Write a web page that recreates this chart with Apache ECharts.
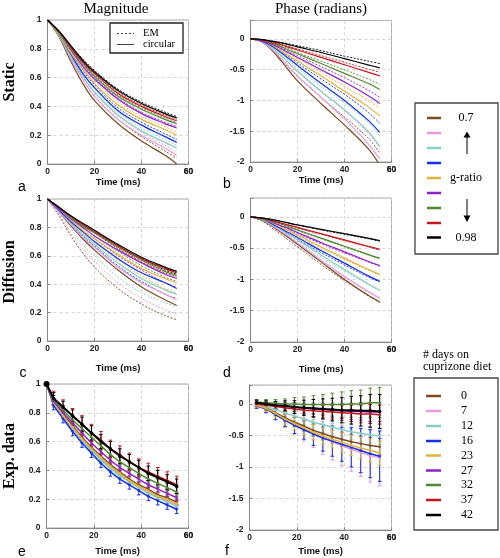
<!DOCTYPE html>
<html><head><meta charset="utf-8">
<script src="https://cdn.jsdelivr.net/npm/echarts/dist/echarts.min.js"></script>
<style>html,body{margin:0;padding:0;background:#fff}#chart{width:500px;height:558px}</style>
</head><body><div id="chart"></div>
<script>
// ---------- data ----------
const timeSim = [0, 5, 10, 15, 20, 30, 40, 50, 55];
const timeExpMag = [0, 3, 7, 11, 15, 19, 23, 27, 31, 35, 39, 43, 47, 51, 55];
const timeExpPhase = [3, 7, 11, 15, 19, 23, 27, 31, 35, 39, 43, 47, 51, 55];
const timeTicks = [0, 20, 40, 60];
const magTicks = [0, 0.2, 0.4, 0.6, 0.8, 1];
const phaseTicks = [-2, -1.5, -1, -0.5, 0];
const gRatioLabels = ['0.7', '', '', '', '', '', '', '', '0.98'];
const dietDays = ['0', '7', '12', '16', '23', '27', '32', '37', '42'];

// order: 0.7 (brown) ... 0.98 (black)
const magStaticCircular = [
  [1, 0.88, 0.71, 0.56, 0.44, 0.28, 0.16, 0.06, 0.00],
  [1, 0.89, 0.73, 0.59, 0.47, 0.31, 0.20, 0.11, 0.06],
  [1, 0.89, 0.74, 0.61, 0.50, 0.34, 0.23, 0.15, 0.11],
  [1, 0.90, 0.76, 0.63, 0.53, 0.37, 0.27, 0.19, 0.15],
  [1, 0.90, 0.77, 0.66, 0.56, 0.41, 0.31, 0.24, 0.20],
  [1, 0.91, 0.79, 0.68, 0.59, 0.45, 0.35, 0.28, 0.25],
  [1, 0.91, 0.80, 0.70, 0.61, 0.47, 0.38, 0.31, 0.28],
  [1, 0.92, 0.81, 0.71, 0.63, 0.49, 0.40, 0.33, 0.30],
  [1, 0.92, 0.82, 0.72, 0.64, 0.51, 0.42, 0.35, 0.32]
];
const magStaticEM = [
  [1, 0.89, 0.73, 0.59, 0.47, 0.31, 0.19, 0.09, 0.04],
  [1, 0.89, 0.74, 0.61, 0.49, 0.33, 0.22, 0.13, 0.08],
  [1, 0.90, 0.76, 0.63, 0.52, 0.36, 0.25, 0.17, 0.13],
  [1, 0.90, 0.77, 0.65, 0.55, 0.39, 0.29, 0.21, 0.17],
  [1, 0.91, 0.78, 0.67, 0.58, 0.43, 0.33, 0.26, 0.22],
  [1, 0.91, 0.80, 0.69, 0.60, 0.46, 0.36, 0.29, 0.26],
  [1, 0.92, 0.81, 0.71, 0.62, 0.48, 0.39, 0.32, 0.29],
  [1, 0.92, 0.82, 0.72, 0.64, 0.50, 0.41, 0.34, 0.31],
  [1, 0.92, 0.82, 0.73, 0.65, 0.52, 0.43, 0.36, 0.33]
];
const phaseStaticCircular = [
  [0, -0.05, -0.22, -0.45, -0.68, -1.05, -1.40, -1.78, -2.05],
  [0, -0.05, -0.20, -0.40, -0.60, -0.95, -1.30, -1.70, -1.95],
  [0, -0.04, -0.17, -0.34, -0.52, -0.85, -1.15, -1.50, -1.75],
  [0, -0.04, -0.14, -0.28, -0.43, -0.72, -1.00, -1.32, -1.52],
  [0, -0.03, -0.12, -0.24, -0.36, -0.60, -0.85, -1.10, -1.25],
  [0, -0.03, -0.10, -0.20, -0.30, -0.50, -0.70, -0.92, -1.05],
  [0, -0.02, -0.08, -0.16, -0.24, -0.40, -0.56, -0.72, -0.82],
  [0, -0.02, -0.06, -0.12, -0.18, -0.30, -0.42, -0.54, -0.60],
  [0, -0.01, -0.04, -0.08, -0.13, -0.22, -0.32, -0.42, -0.47]
];
const phaseStaticEM = [
  [0, -0.05, -0.20, -0.41, -0.61, -0.95, -1.27, -1.61, -1.85],
  [0, -0.04, -0.18, -0.36, -0.54, -0.86, -1.17, -1.53, -1.76],
  [0, -0.04, -0.15, -0.31, -0.47, -0.77, -1.04, -1.35, -1.58],
  [0, -0.03, -0.13, -0.25, -0.39, -0.65, -0.90, -1.19, -1.37],
  [0, -0.03, -0.11, -0.22, -0.32, -0.54, -0.77, -0.99, -1.13],
  [0, -0.03, -0.09, -0.18, -0.27, -0.45, -0.63, -0.83, -0.95],
  [0, -0.02, -0.07, -0.14, -0.22, -0.36, -0.50, -0.65, -0.74],
  [0, -0.02, -0.05, -0.11, -0.16, -0.27, -0.38, -0.49, -0.54],
  [0, -0.01, -0.04, -0.07, -0.11, -0.19, -0.28, -0.36, -0.40]
];
const magDiffCircular = [
  [1, 0.91, 0.81, 0.72, 0.64, 0.50, 0.38, 0.29, 0.25],
  [1, 0.91, 0.82, 0.73, 0.66, 0.52, 0.41, 0.33, 0.29],
  [1, 0.92, 0.83, 0.75, 0.68, 0.55, 0.44, 0.36, 0.33],
  [1, 0.92, 0.84, 0.77, 0.70, 0.58, 0.48, 0.41, 0.37],
  [1, 0.93, 0.85, 0.78, 0.72, 0.61, 0.51, 0.44, 0.41],
  [1, 0.93, 0.86, 0.80, 0.74, 0.64, 0.55, 0.47, 0.44],
  [1, 0.94, 0.87, 0.81, 0.76, 0.66, 0.57, 0.49, 0.46],
  [1, 0.94, 0.88, 0.82, 0.77, 0.67, 0.58, 0.51, 0.48],
  [1, 0.94, 0.88, 0.83, 0.78, 0.68, 0.59, 0.52, 0.49]
];
const magDiffEM = [
  [1, 0.88, 0.74, 0.62, 0.52, 0.37, 0.26, 0.18, 0.15],
  [1, 0.89, 0.76, 0.65, 0.56, 0.41, 0.30, 0.22, 0.19],
  [1, 0.90, 0.79, 0.68, 0.60, 0.45, 0.34, 0.27, 0.24],
  [1, 0.92, 0.83, 0.74, 0.67, 0.53, 0.42, 0.33, 0.30],
  [1, 0.92, 0.84, 0.76, 0.69, 0.57, 0.46, 0.37, 0.34],
  [1, 0.93, 0.85, 0.78, 0.72, 0.60, 0.50, 0.41, 0.38],
  [1, 0.93, 0.86, 0.80, 0.74, 0.63, 0.53, 0.45, 0.42],
  [1, 0.94, 0.87, 0.81, 0.76, 0.65, 0.56, 0.48, 0.45],
  [1, 0.94, 0.88, 0.82, 0.77, 0.67, 0.58, 0.50, 0.47]
];
const phaseDiffCircular = [
  [0, -0.06, -0.17, -0.30, -0.44, -0.72, -1.00, -1.25, -1.36],
  [0, -0.05, -0.16, -0.28, -0.42, -0.69, -0.95, -1.19, -1.30],
  [0, -0.05, -0.14, -0.25, -0.37, -0.61, -0.84, -1.07, -1.17],
  [0, -0.04, -0.13, -0.23, -0.33, -0.54, -0.74, -0.94, -1.03],
  [0, -0.04, -0.11, -0.20, -0.29, -0.48, -0.66, -0.84, -0.92],
  [0, -0.03, -0.10, -0.17, -0.25, -0.41, -0.56, -0.71, -0.78],
  [0, -0.03, -0.08, -0.14, -0.21, -0.34, -0.47, -0.60, -0.66],
  [0, -0.02, -0.07, -0.12, -0.17, -0.27, -0.37, -0.47, -0.52],
  [0, -0.02, -0.05, -0.09, -0.13, -0.20, -0.27, -0.34, -0.38]
];
const phaseDiffEM = [
  [0, -0.07, -0.20, -0.34, -0.48, -0.76, -1.02, -1.26, -1.37],
  [0, -0.06, -0.18, -0.31, -0.45, -0.72, -0.97, -1.20, -1.31],
  [0, -0.05, -0.16, -0.28, -0.40, -0.64, -0.87, -1.08, -1.18],
  [0, -0.05, -0.14, -0.25, -0.36, -0.57, -0.77, -0.96, -1.04],
  [0, -0.04, -0.12, -0.21, -0.31, -0.50, -0.68, -0.85, -0.93],
  [0, -0.04, -0.11, -0.18, -0.27, -0.43, -0.58, -0.72, -0.79],
  [0, -0.03, -0.09, -0.15, -0.22, -0.35, -0.48, -0.61, -0.67],
  [0, -0.02, -0.07, -0.12, -0.18, -0.28, -0.38, -0.48, -0.53],
  [0, -0.02, -0.05, -0.09, -0.13, -0.21, -0.28, -0.35, -0.39]
];
// experimental data, order: 0,7,12,16,23,27,32,37,42 days
const magExp = [
  [1, 0.87, 0.79, 0.71, 0.63, 0.56, 0.50, 0.44, 0.39, 0.34, 0.30, 0.27, 0.23, 0.21, 0.18],
  [1, 0.87, 0.78, 0.69, 0.61, 0.54, 0.48, 0.42, 0.37, 0.32, 0.28, 0.25, 0.22, 0.19, 0.16],
  [1, 0.86, 0.77, 0.69, 0.61, 0.54, 0.47, 0.41, 0.36, 0.32, 0.28, 0.24, 0.21, 0.18, 0.15],
  [1, 0.85, 0.76, 0.67, 0.59, 0.52, 0.45, 0.39, 0.34, 0.30, 0.26, 0.22, 0.19, 0.16, 0.13],
  [1, 0.87, 0.78, 0.70, 0.62, 0.55, 0.49, 0.43, 0.38, 0.33, 0.29, 0.26, 0.22, 0.20, 0.17],
  [1, 0.88, 0.80, 0.73, 0.66, 0.59, 0.53, 0.47, 0.42, 0.38, 0.34, 0.30, 0.27, 0.24, 0.21],
  [1, 0.89, 0.82, 0.75, 0.69, 0.63, 0.57, 0.51, 0.46, 0.42, 0.38, 0.34, 0.31, 0.28, 0.25],
  [1, 0.90, 0.84, 0.78, 0.72, 0.66, 0.61, 0.55, 0.51, 0.46, 0.42, 0.39, 0.36, 0.33, 0.30],
  [1, 0.90, 0.84, 0.78, 0.72, 0.66, 0.60, 0.55, 0.50, 0.46, 0.42, 0.38, 0.35, 0.32, 0.29]
];
const magExpErr = [
  [0, 0.02, 0.02, 0.02, 0.02, 0.02, 0.02, 0.02, 0.02, 0.02, 0.02, 0.02, 0.02, 0.02, 0.02],
  [0, 0.02, 0.02, 0.02, 0.02, 0.02, 0.02, 0.02, 0.02, 0.02, 0.02, 0.02, 0.02, 0.02, 0.02],
  [0, 0.02, 0.02, 0.02, 0.02, 0.02, 0.02, 0.02, 0.02, 0.02, 0.02, 0.02, 0.02, 0.02, 0.02],
  [0, 0.03, 0.03, 0.03, 0.03, 0.03, 0.03, 0.03, 0.03, 0.03, 0.03, 0.03, 0.03, 0.03, 0.03],
  [0, 0.02, 0.02, 0.02, 0.02, 0.02, 0.02, 0.02, 0.02, 0.02, 0.02, 0.02, 0.02, 0.02, 0.02],
  [0, 0.02, 0.02, 0.02, 0.02, 0.02, 0.02, 0.02, 0.02, 0.02, 0.02, 0.02, 0.02, 0.02, 0.02],
  [0, 0.03, 0.03, 0.03, 0.03, 0.03, 0.03, 0.03, 0.03, 0.03, 0.03, 0.03, 0.03, 0.03, 0.03],
  [0, 0.05, 0.05, 0.05, 0.06, 0.06, 0.06, 0.06, 0.06, 0.06, 0.06, 0.06, 0.06, 0.06, 0.06],
  [0, 0.04, 0.04, 0.04, 0.05, 0.05, 0.05, 0.05, 0.05, 0.05, 0.05, 0.05, 0.05, 0.05, 0.05]
];
const phaseExp = [
  [-0.02, -0.06, -0.14, -0.22, -0.29, -0.35, -0.42, -0.47, -0.52, -0.56, -0.60, -0.63, -0.66, -0.68],
  [-0.03, -0.08, -0.16, -0.25, -0.32, -0.40, -0.47, -0.54, -0.60, -0.66, -0.72, -0.77, -0.82, -0.86],
  [-0.01, -0.04, -0.09, -0.14, -0.19, -0.24, -0.29, -0.33, -0.37, -0.41, -0.44, -0.47, -0.49, -0.51],
  [-0.03, -0.08, -0.17, -0.26, -0.34, -0.41, -0.48, -0.54, -0.59, -0.64, -0.69, -0.74, -0.79, -0.83],
  [-0.02, -0.07, -0.15, -0.24, -0.31, -0.38, -0.45, -0.51, -0.56, -0.61, -0.66, -0.70, -0.74, -0.78],
  [0.02, 0.00, -0.02, -0.04, -0.05, -0.07, -0.08, -0.09, -0.10, -0.11, -0.12, -0.12, -0.13, -0.13],
  [0.03, 0.02, 0.01, 0.00, 0.00, -0.01, -0.01, -0.01, -0.01, -0.01, 0.00, 0.00, 0.02, 0.02],
  [0.00, -0.02, -0.04, -0.06, -0.08, -0.10, -0.11, -0.12, -0.13, -0.14, -0.15, -0.16, -0.16, -0.17],
  [0.02, 0.00, -0.02, -0.03, -0.05, -0.06, -0.07, -0.08, -0.09, -0.10, -0.10, -0.11, -0.11, -0.12]
];
const phaseExpErr = [
  [0.03, 0.04, 0.05, 0.06, 0.07, 0.08, 0.09, 0.10, 0.10, 0.11, 0.12, 0.12, 0.13, 0.13],
  [0.04, 0.06, 0.09, 0.12, 0.16, 0.19, 0.22, 0.26, 0.29, 0.32, 0.35, 0.38, 0.42, 0.44],
  [0.03, 0.04, 0.05, 0.06, 0.07, 0.08, 0.09, 0.10, 0.10, 0.11, 0.12, 0.12, 0.13, 0.13],
  [0.04, 0.06, 0.08, 0.10, 0.13, 0.15, 0.18, 0.21, 0.24, 0.27, 0.31, 0.35, 0.38, 0.40],
  [0.03, 0.05, 0.06, 0.08, 0.10, 0.11, 0.12, 0.13, 0.14, 0.15, 0.16, 0.17, 0.18, 0.19],
  [0.03, 0.04, 0.05, 0.06, 0.07, 0.08, 0.09, 0.10, 0.11, 0.12, 0.13, 0.14, 0.15, 0.15],
  [0.04, 0.05, 0.06, 0.08, 0.10, 0.12, 0.14, 0.16, 0.18, 0.20, 0.21, 0.22, 0.23, 0.24],
  [0.03, 0.04, 0.05, 0.06, 0.07, 0.08, 0.09, 0.10, 0.11, 0.12, 0.13, 0.14, 0.15, 0.15],
  [0.04, 0.05, 0.06, 0.08, 0.10, 0.12, 0.14, 0.16, 0.18, 0.20, 0.22, 0.24, 0.26, 0.27]
];

// ---------- styles ----------
const colors = ['#7b4a20', '#e89bd6', '#86cfc2', '#1230f0', '#e2b23a', '#9020c8', '#4f8a30', '#c8141c', '#000000'];
const SERIF = '"Liberation Serif", "DejaVu Serif", serif';
const SANS = '"Liberation Sans", Arial, sans-serif';
const TICK_FONT = 'bold 8.5px ' + SANS;

const grids = [
  {left: 47.5, top: 20, width: 141, height: 144},
  {left: 250.5, top: 20.5, width: 141, height: 141.5},
  {left: 47.5, top: 199, width: 141, height: 142},
  {left: 250.5, top: 198, width: 141, height: 144},
  {left: 46.5, top: 384, width: 142, height: 144},
  {left: 249.5, top: 385, width: 142, height: 145}
];
const nameGaps = [13, 13, 22, 22, 18, 16];
const LABEL_MARGIN = 3;

function xAxisFor(i) {
  return {
    type: 'value', gridIndex: i, min: timeTicks[0], max: timeTicks[timeTicks.length - 1],
    interval: timeTicks[1] - timeTicks[0],
    name: 'Time (ms)', nameLocation: 'middle', nameGap: nameGaps[i],
    nameTextStyle: {fontFamily: SANS, fontWeight: 'bold', fontSize: 9.5, color: '#111'},
    axisLine: {show: true, onZero: false, lineStyle: {color: '#888', width: 1}},
    axisTick: {show: true, inside: true, length: 3, lineStyle: {color: '#888'}},
    axisLabel: {fontFamily: SANS, fontWeight: 'bold', fontSize: 8.5, color: '#222', margin: LABEL_MARGIN,
      showMinLabel: true, hideOverlap: false},
    splitLine: {show: true, lineStyle: {color: '#c8c8c8', type: [3, 3], width: 0.8}}
  };
}
function yAxisFor(i, isPhase) {
  const ticks = isPhase ? phaseTicks : magTicks;
  return {
    type: 'value', gridIndex: i, min: ticks[0], max: isPhase ? 0.3 : ticks[ticks.length - 1],
    interval: ticks[1] - ticks[0],
    axisLine: {show: true, onZero: false, lineStyle: {color: '#888', width: 1}},
    axisTick: {show: true, inside: true, length: 3, lineStyle: {color: '#888'}},
    axisLabel: {
      fontFamily: SANS, fontWeight: 'bold', fontSize: 8.5, color: '#222', margin: 6,
      showMinLabel: true, hideOverlap: false,
      formatter: v => (ticks.some(t => Math.abs(t - v) < 1e-9) ? String(+v.toFixed(2)) : '')
    },
    splitLine: {show: true, lineStyle: {color: '#c8c8c8', type: [3, 3], width: 0.8}}
  };
}

const series = [];
function simPanel(i, circ, em) {
  for (let k = 0; k < 9; k++) {
    series.push({
      type: 'line', name: 'EM ' + k, xAxisIndex: i, yAxisIndex: i, smooth: 0.35,
      symbol: 'none', data: timeSim.map((t, j) => [t, em[k][j]]),
      lineStyle: {color: colors[k], width: 0.9, type: [2, 1.5]}, silent: true, z: 2
    });
    series.push({
      type: 'line', name: 'circular ' + k, xAxisIndex: i, yAxisIndex: i, smooth: 0.35,
      symbol: 'none', data: timeSim.map((t, j) => [t, circ[k][j]]),
      lineStyle: {color: colors[k], width: 1.2}, silent: true, z: 3
    });
  }
}
simPanel(0, magStaticCircular, magStaticEM);
simPanel(1, phaseStaticCircular, phaseStaticEM);
simPanel(2, magDiffCircular, magDiffEM);
simPanel(3, phaseDiffCircular, phaseDiffEM);

function errRender(color) {
  return function (params, api) {
    const x = api.value(0);
    const lo = api.coord([x, api.value(1)]);
    const hi = api.coord([x, api.value(2)]);
    const w = 1.8;
    const st = {stroke: color, lineWidth: 1};
    return {type: 'group', children: [
      {type: 'line', shape: {x1: lo[0], y1: lo[1], x2: hi[0], y2: hi[1]}, style: st},
      {type: 'line', shape: {x1: lo[0] - w, y1: lo[1], x2: lo[0] + w, y2: lo[1]}, style: st},
      {type: 'line', shape: {x1: hi[0] - w, y1: hi[1], x2: hi[0] + w, y2: hi[1]}, style: st}
    ]};
  };
}
function expPanel(i, times, vals, errs) {
  for (let k = 0; k < 9; k++) {
    const errData = [];
    times.forEach((t, j) => { if (errs[k][j] > 0) errData.push([t, vals[k][j] - errs[k][j], vals[k][j] + errs[k][j]]); });
    series.push({
      type: 'custom', name: dietDays[k], xAxisIndex: i, yAxisIndex: i, data: errData,
      encode: {x: 0, y: [1, 2]}, renderItem: errRender(colors[k]), silent: true, z: 2 + k * 0.1
    });
    series.push({
      type: 'line', name: dietDays[k], xAxisIndex: i, yAxisIndex: i,
      data: times.map((t, j) => [t, vals[k][j]]),
      symbol: 'circle', symbolSize: k === 8 ? (v, p) => (p.dataIndex === 0 && i === 4 ? 6 : 3.5) : 2.5,
      itemStyle: {color: colors[k]},
      lineStyle: {color: colors[k], width: k === 8 ? 2 : 1.5}, silent: true, z: 3 + k * 0.1
    });
  }
}
expPanel(4, timeExpMag, magExp, magExpErr);
expPanel(5, timeExpPhase, phaseExp, phaseExpErr);

// ---------- graphics (labels & legends) ----------
const g = [];
function txt(x, y, s, font, opts) {
  g.push(Object.assign({type: 'text', x: x, y: y, style: Object.assign({text: s, font: font, fill: '#000', textAlign: 'center', textVerticalAlign: 'middle'}, opts || {})}, {z: 100}));
}
txt(116, 9, 'Magnitude', '15px ' + SERIF);
txt(321, 9, 'Phase (radians)', '15px ' + SERIF);
[['Static', 82], ['Diffusion', 272], ['Exp. data', 456]].forEach(([s, y]) => {
  g.push({type: 'text', x: 10, y: y, rotation: Math.PI / 2, z: 100,
    style: {text: s, font: 'bold 16px ' + SERIF, fill: '#000', textAlign: 'center', textVerticalAlign: 'middle'}});
});
[['a', 22, 187], ['b', 227, 184], ['c', 23, 373], ['d', 227, 373], ['e', 22, 552], ['f', 227, 551]].forEach(([s, x, y]) => txt(x, y, s, '14px ' + SANS));

// EM / circular legend
g.push({type: 'rect', shape: {x: 110, y: 23, width: 73, height: 30}, style: {fill: '#fff', stroke: '#222', lineWidth: 1.3}, z: 90});
g.push({type: 'line', shape: {x1: 117, y1: 33.5, x2: 134, y2: 33.5}, style: {stroke: '#444', lineWidth: 1, lineDash: [2, 2]}, z: 100});
g.push({type: 'line', shape: {x1: 117, y1: 44.5, x2: 134, y2: 44.5}, style: {stroke: '#444', lineWidth: 1}, z: 100});
txt(143, 33.5, 'EM', '10.5px ' + SERIF, {textAlign: 'left'});
txt(143, 44.5, 'circular', '10.5px ' + SERIF, {textAlign: 'left'});

// g-ratio legend
g.push({type: 'rect', shape: {x: 415, y: 103, width: 83, height: 151}, style: {fill: '#fff', stroke: '#444', lineWidth: 1.3}, z: 90});
const gRows = [118, 133, 148, 163, 178, 193, 208, 223, 237.5];
gRows.forEach((y, k) => {
  g.push({type: 'line', shape: {x1: 427, y1: y, x2: 441, y2: y}, style: {stroke: colors[k], lineWidth: 2.5}, z: 100});
  if (gRatioLabels[k]) txt(466, y, gRatioLabels[k], '12px ' + SERIF);
});
txt(466, 178, 'g-ratio', '12px ' + SERIF);
g.push({type: 'line', shape: {x1: 467, y1: 154, x2: 467, y2: 137}, style: {stroke: '#000', lineWidth: 1}, z: 100});
g.push({type: 'polygon', shape: {points: [[463.5, 137.5], [470.5, 137.5], [467, 131.5]]}, style: {fill: '#000'}, z: 100});
g.push({type: 'line', shape: {x1: 467, y1: 199, x2: 467, y2: 216}, style: {stroke: '#000', lineWidth: 1}, z: 100});
g.push({type: 'polygon', shape: {points: [[463.5, 215.5], [470.5, 215.5], [467, 222]]}, style: {fill: '#000'}, z: 100});

// diet days legend
txt(423, 355, '# days on', '12px ' + SERIF, {textAlign: 'left'});
txt(423, 367, 'cuprizone diet', '12px ' + SERIF, {textAlign: 'left'});
g.push({type: 'rect', shape: {x: 414, y: 378, width: 84, height: 152}, style: {fill: '#fff', stroke: '#444', lineWidth: 1.3}, z: 90});
const dRows = [396, 411, 426, 441, 455.5, 470.5, 485, 500, 515];
dRows.forEach((y, k) => {
  g.push({type: 'line', shape: {x1: 426, y1: y, x2: 441, y2: y}, style: {stroke: colors[k], lineWidth: 2.5}, z: 100});
  txt(461, y, dietDays[k], '12px ' + SERIF, {textAlign: 'left'});
});

const chart = echarts.init(document.getElementById('chart'), null, {renderer: 'canvas'});
chart.setOption({
  animation: false,
  backgroundColor: '#fff',
  grid: grids.map(gr => Object.assign({show: true, borderColor: '#aaa', borderWidth: 1, backgroundColor: 'transparent'}, gr)),
  xAxis: [0, 1, 2, 3, 4, 5].map(i => xAxisFor(i)),
  yAxis: [0, 1, 2, 3, 4, 5].map(i => yAxisFor(i, i % 2 === 1)),
  series: series
});

// the label at the right end of each time axis is placed through the axis scale
const tMax = timeTicks[timeTicks.length - 1];
for (let i = 0; i < 6; i++) {
  const yMin = (i % 2 === 1 ? phaseTicks : magTicks)[0];
  const p = chart.convertToPixel({xAxisIndex: i, yAxisIndex: i}, [tMax, yMin]);
  g.push({type: 'text', x: p[0], y: p[1] + LABEL_MARGIN, z: 100,
    style: {text: String(tMax), font: TICK_FONT, fill: '#222', textAlign: 'center', textVerticalAlign: 'top'}});
}
chart.setOption({graphic: g});
</script>
</body></html>
